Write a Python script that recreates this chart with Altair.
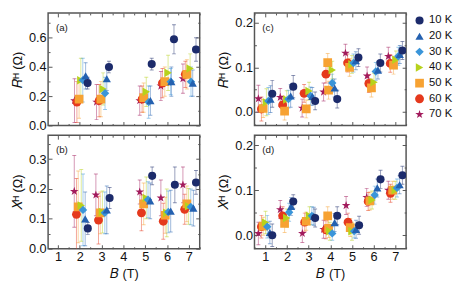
import altair as alt
import pandas as pd

SERIES = ["10 K", "20 K", "30 K", "40 K", "50 K", "60 K", "70 K"]
COLORS = ["#1c2b6b", "#2461b0", "#3a95d9", "#b7d21c", "#f7a232", "#e5391d", "#a21a5c"]
STAR = ("M0,-1L0.2245,-0.309L0.951,-0.309L0.363,0.118L0.588,0.809L0,0.382"
        "L-0.588,0.809L-0.363,0.118L-0.951,-0.309L-0.2245,-0.309Z")
SHAPES = ["circle", "triangle-up", "diamond", "triangle-right", "square", "circle", STAR]
SIZES = [68, 85, 80, 80, 60, 70, 105]

# ---- panel (a): R^H, left ----
A_B = {
    "10 K": [2.36, 3.34, 5.30, 6.32, 7.33],
    "20 K": [2.27, 3.24, 5.24, 6.20, 7.18],
    "30 K": [2.14, 3.16, 5.16, 6.17, 7.10],
    "40 K": [2.05, 3.07, 5.05, 6.05, 7.06],
    "50 K": [1.97, 2.97, 4.93, 5.90, 6.91],
    "60 K": [1.87, 2.89, 4.86, 5.79, 6.84],
    "70 K": [1.76, 2.77, 4.75, 5.72, 6.73],
}
A_Y = {
    "10 K": [0.29, 0.40, 0.42, 0.59, 0.52],
    "20 K": [0.34, 0.32, 0.17, 0.30, 0.29],
    "30 K": [0.31, 0.22, 0.16, 0.30, 0.30],
    "40 K": [0.31, 0.25, 0.23, 0.36, 0.39],
    "50 K": [0.18, 0.18, 0.19, 0.30, 0.35],
    "60 K": [0.16, 0.17, 0.18, 0.29, 0.35],
    "70 K": [0.17, 0.16, 0.17, 0.27, 0.32],
}
A_E = {
    "10 K": [0.04, 0.04, 0.04, 0.10, 0.08],
    "20 K": [0.09, 0.08, 0.10, 0.10, 0.09],
    "30 K": [0.15, 0.11, 0.11, 0.09, 0.10],
    "40 K": [0.15, 0.11, 0.10, 0.12, 0.10],
    "50 K": [0.13, 0.12, 0.10, 0.10, 0.10],
    "60 K": [0.14, 0.11, 0.09, 0.10, 0.09],
    "70 K": [0.15, 0.12, 0.10, 0.10, 0.10],
}

# ---- panel (b): X^H, left ----
B_B = {
    "10 K": [2.37, 3.37, 5.32, 6.36, 7.33],
    "20 K": [2.25, 3.24, 5.23, 6.17, 7.21],
    "30 K": [2.15, 3.15, 5.13, 6.06, 7.09],
    "40 K": [2.07, 3.04, 5.05, 5.99, 6.99],
    "50 K": [1.93, 2.94, 4.93, 5.92, 6.91],
    "60 K": [1.85, 2.86, 4.83, 5.83, 6.81],
    "70 K": [1.75, 2.74, 4.75, 5.72, 6.73],
}
B_Y = {
    "10 K": [0.068, 0.170, 0.244, 0.214, 0.222],
    "20 K": [0.100, 0.130, 0.160, 0.126, 0.136],
    "30 K": [0.130, 0.120, 0.164, 0.123, 0.140],
    "40 K": [0.145, 0.123, 0.170, 0.120, 0.142],
    "50 K": [0.140, 0.120, 0.150, 0.112, 0.150],
    "60 K": [0.115, 0.096, 0.120, 0.092, 0.132],
    "70 K": [0.192, 0.180, 0.190, 0.170, 0.214],
}
B_E = {
    "10 K": [0.02, 0.035, 0.03, 0.06, 0.04],
    "20 K": [0.09, 0.08, 0.06, 0.07, 0.06],
    "30 K": [0.12, 0.07, 0.06, 0.07, 0.06],
    "40 K": [0.12, 0.07, 0.07, 0.08, 0.06],
    "50 K": [0.12, 0.07, 0.07, 0.06, 0.06],
    "60 K": [0.12, 0.08, 0.06, 0.06, 0.05],
    "70 K": [0.12, 0.07, 0.04, 0.06, 0.06],
}

# ---- panel (c): R^H, right ----
C_B = {
    "10 K": [1.32, 2.29, 3.30, 4.32, 5.30, 6.31, 7.33],
    "20 K": [1.24, 2.17, 3.17, 4.20, 5.18, 6.20, 7.21],
    "30 K": [1.14, 2.07, 3.09, 4.09, 5.07, 6.10, 7.14],
    "40 K": [1.05, 1.99, 3.02, 4.09, 5.00, 6.02, 7.03],
    "50 K": [0.90, 1.89, 2.89, 3.88, 3.92, 4.89, 5.90, 6.92],
    "60 K": [0.82, 1.80, 2.79, 3.80, 4.80, 5.78, 6.77],
    "70 K": [0.68, 1.69, 2.70, 3.69, 4.70, 5.70, 6.68],
}
C_Y = {
    "10 K": [0.041, 0.057, 0.025, 0.029, 0.122, 0.110, 0.138],
    "20 K": [0.029, 0.036, 0.035, 0.054, 0.115, 0.094, 0.129],
    "30 K": [0.025, 0.029, 0.036, 0.065, 0.110, 0.091, 0.125],
    "40 K": [0.022, 0.028, 0.047, 0.094, 0.107, 0.067, 0.117],
    "50 K": [0.008, 0.002, 0.007, 0.111, 0.049, 0.100, 0.054, 0.105],
    "60 K": [0.007, 0.016, 0.042, 0.085, 0.110, 0.064, 0.109],
    "70 K": [0.030, 0.033, 0.009, 0.045, 0.132, 0.081, 0.125],
}
C_E = {
    "10 K": [0.030, 0.025, 0.020, 0.020, 0.020, 0.020, 0.020],
    "20 K": [0.030, 0.025, 0.020, 0.020, 0.020, 0.020, 0.020],
    "30 K": [0.030, 0.020, 0.020, 0.020, 0.020, 0.020, 0.020],
    "40 K": [0.030, 0.020, 0.020, 0.020, 0.020, 0.020, 0.020],
    "50 K": [0.020, 0.020, 0.020, 0.020, 0.020, 0.020, 0.020, 0.020],
    "60 K": [0.027, 0.020, 0.020, 0.020, 0.020, 0.020, 0.020],
    "70 K": [0.030, 0.020, 0.020, 0.020, 0.020, 0.020, 0.020],
}

# ---- panel (d): X^H, right ----
D_B = {
    "10 K": [1.32, 2.29, 3.30, 4.32, 5.33, 6.32, 7.33],
    "20 K": [1.21, 2.19, 3.24, 4.20, 5.19, 6.17, 7.20],
    "30 K": [1.09, 2.10, 3.15, 4.09, 5.10, 6.05, 7.08],
    "40 K": [1.01, 1.99, 3.04, 3.98, 5.00, 5.93, 7.00],
    "50 K": [0.90, 1.89, 2.89, 3.88, 3.92, 4.92, 5.83, 6.88],
    "60 K": [0.82, 1.80, 2.82, 3.80, 4.82, 5.75, 6.78],
    "70 K": [0.68, 1.69, 2.71, 3.69, 4.73, 5.68, 6.68],
}
D_Y = {
    "10 K": [0.000, 0.075, 0.038, 0.043, 0.022, 0.124, 0.133],
    "20 K": [0.006, 0.064, 0.042, 0.028, 0.013, 0.105, 0.112],
    "30 K": [0.019, 0.051, 0.043, 0.004, 0.009, 0.089, 0.105],
    "40 K": [0.028, 0.038, 0.043, 0.009, 0.009, 0.078, 0.100],
    "50 K": [0.020, 0.026, 0.031, 0.043, 0.015, 0.017, 0.076, 0.100],
    "60 K": [0.019, 0.043, 0.029, 0.012, 0.029, 0.075, 0.093],
    "70 K": [0.004, 0.057, 0.004, 0.013, 0.066, 0.084, 0.100],
}
D_E = {
    "10 K": [0.025, 0.015, 0.020, 0.020, 0.020, 0.020, 0.020],
    "20 K": [0.025, 0.020, 0.020, 0.020, 0.020, 0.020, 0.020],
    "30 K": [0.025, 0.020, 0.020, 0.015, 0.015, 0.020, 0.020],
    "40 K": [0.025, 0.020, 0.020, 0.020, 0.020, 0.020, 0.020],
    "50 K": [0.020, 0.020, 0.020, 0.020, 0.020, 0.020, 0.020, 0.020],
    "60 K": [0.025, 0.020, 0.020, 0.020, 0.020, 0.020, 0.020],
    "70 K": [0.025, 0.020, 0.020, 0.020, 0.020, 0.020, 0.020],
}

X_MAJOR = [1, 2, 3, 4, 5, 6, 7]
X_MINOR = [0.5, 1.5, 2.5, 3.5, 4.5, 5.5, 6.5, 7.5]
A_YMAJ = [0.0, 0.2, 0.4, 0.6]
A_YMIN = [0.1, 0.3, 0.5, 0.7]
B_YMAJ = [0.0, 0.1, 0.2, 0.3]
B_YMIN = [0.05, 0.15, 0.25, 0.35]
R_YMAJ = [0.0, 0.1, 0.2]
R_YMIN = [-0.05, 0.05, 0.15]

LINE = "#555555"


def table(bd, yd, ed):
    rows = []
    for s in reversed(SERIES):
        for b, v, e in zip(bd[s], yd[s], ed[s]):
            rows.append({"series": s, "B": b, "v": v, "lo": v - e, "hi": v + e})
    return pd.DataFrame(rows)


def ax(orient, values, major, labels=False, title=None, fmt=None):
    kw = dict(orient=orient, values=values, labels=labels, domain=False, grid=False,
              tickSize={"expr": "-4" if major else "-2"}, tickColor=LINE, tickWidth=1,
              labelPadding=6, title=title)
    if fmt:
        kw["format"] = fmt
    return alt.Axis(**kw)


def panel(df, xdom, ydom, ymaj, ymin, ytitle, label, show_x, w, h):
    base = alt.Chart(df)
    xs = alt.Scale(domain=xdom, nice=False, zero=False)
    ys = alt.Scale(domain=ydom, nice=False, zero=False)
    col = alt.Color("series:N", scale=alt.Scale(domain=SERIES, range=COLORS),
                    legend=alt.Legend(title=None))
    shp = alt.Shape("series:N", scale=alt.Scale(domain=SERIES, range=SHAPES),
                    legend=alt.Legend(title=None))
    sz = alt.Size("series:O", scale=alt.Scale(domain=SERIES, range=SIZES), legend=None)

    rules = base.mark_rule(strokeWidth=1, opacity=0.45, clip=True).encode(
        x=alt.X("B:Q", scale=xs, axis=ax("top", X_MAJOR, True)),
        y=alt.Y("lo:Q", scale=ys, axis=ax("right", ymaj, True)),
        y2="hi:Q",
        color=col,
    )
    caps_lo = base.mark_tick(orient="horizontal", size=4, thickness=1, opacity=0.5, clip=True).encode(
        x=alt.X("B:Q", scale=xs, axis=ax("bottom", X_MINOR, False)),
        y=alt.Y("lo:Q", scale=ys, axis=ax("left", ymin, False)),
        color=col,
    )
    caps_hi = base.mark_tick(orient="horizontal", size=4, thickness=1, opacity=0.5, clip=True).encode(
        x=alt.X("B:Q", scale=xs, axis=ax("top", X_MINOR, False)),
        y=alt.Y("hi:Q", scale=ys, axis=ax("right", ymin, False)),
        color=col,
    )
    pts = base.mark_point(filled=True, opacity=1, strokeWidth=0, clip=True).encode(
        x=alt.X("B:Q", scale=xs,
                axis=ax("bottom", X_MAJOR, True, labels=show_x,
                        title="𝐵 (T)" if show_x else None, fmt="d")),
        y=alt.Y("v:Q", scale=ys, axis=ax("left", ymaj, True, labels=True, title=ytitle, fmt=".1f")),
        color=col, shape=shp, size=sz,
    )
    txt = alt.Chart(pd.DataFrame({"t": [label]})).mark_text(
        align="left", baseline="middle", fontSize=10, font="Liberation Sans", color="#222"
    ).encode(x=alt.value(8), y=alt.value(15), text="t:N")

    return alt.layer(rules, caps_lo, caps_hi, pts, txt).resolve_axis(
        x="independent", y="independent").properties(width=w, height=h)


RT = "𝑅ᴴ (Ω)"
XT = "𝑋ᴴ (Ω)"

pa = panel(table(A_B, A_Y, A_E), [0.55, 7.5], [0.0, 0.77], A_YMAJ, A_YMIN, RT, "(a)", False, 155, 115)
pb = panel(table(B_B, B_Y, B_E), [0.55, 7.5], [0.0, 0.38], B_YMAJ, B_YMIN, XT, "(b)", True, 155, 116)
pc = panel(table(C_B, C_Y, C_E), [0.5, 7.5], [-0.03, 0.222], R_YMAJ, R_YMIN, RT, "(c)", False, 155, 115)
pd_ = panel(table(D_B, D_Y, D_E), [0.5, 7.5], [-0.03, 0.222], R_YMAJ, R_YMIN, XT, "(d)", True, 155, 116)

chart = alt.vconcat(
    alt.hconcat(pa, pc, spacing=16),
    alt.hconcat(pb, pd_, spacing=16),
    spacing=0,
).properties(
    padding={"left": 3, "top": 0, "right": 0, "bottom": 0}
).configure(
    font="Liberation Sans"
).configure_view(
    stroke=LINE, strokeWidth=1.5
).configure_axis(
    labelFontSize=13, titleFontSize=13, titleFontWeight="normal", labelColor="#111",
    titleColor="#111", titlePadding=4, labelFont="Liberation Sans", titleFont="Liberation Sans"
).configure_legend(
    orient="right", offset=4, labelFontSize=11.5, symbolSize=60, rowPadding=3,
    padding=2, labelColor="#111", symbolStrokeWidth=0, symbolOpacity=1
)

chart.save("out.html", embed_options={"renderer": "svg", "actions": False})
